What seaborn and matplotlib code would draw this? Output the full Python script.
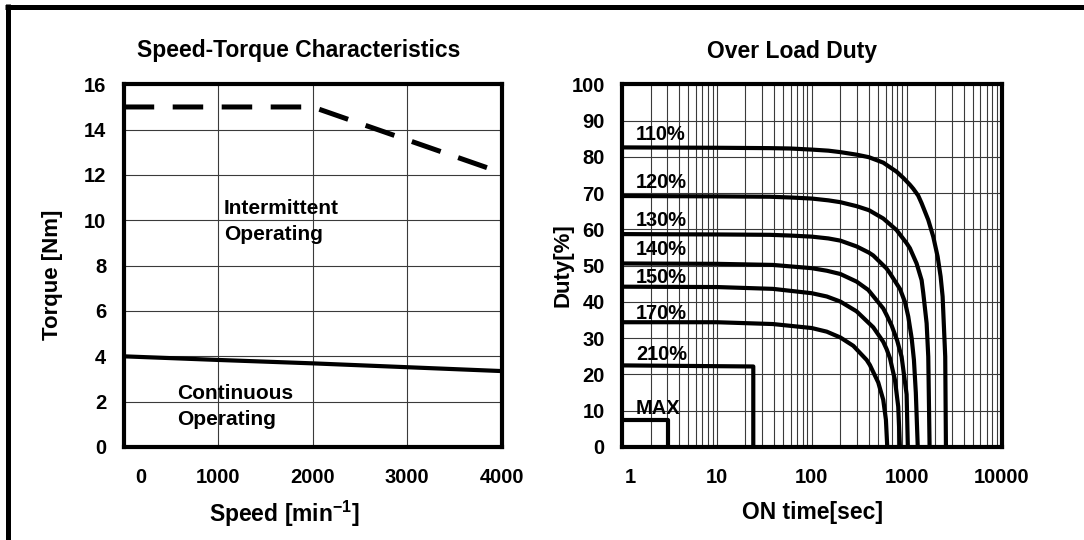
import matplotlib
matplotlib.use("Agg")
import matplotlib.pyplot as plt
import matplotlib.transforms as mtrans
from matplotlib.lines import Line2D
from matplotlib.ticker import FixedLocator, LogLocator, NullFormatter
from matplotlib import font_manager as fm
import seaborn as sns

# ---------------- data ----------------
speed = [0, 1000, 2000, 3000, 4000]
cont_torque = [4.0, 3.84, 3.69, 3.52, 3.35]
inter_speed = [0, 2000, 4000]
inter_torque = [15.0, 15.0, 12.1]
speed_ticks = [0, 1000, 2000, 3000, 4000]
torque_ticks = [0, 2, 4, 6, 8, 10, 12, 14, 16]

t_110 = [1, 10, 36, 59, 100, 150, 200, 297, 400, 567, 784, 922, 1083, 1175, 1325, 1439,
         1691, 1908, 2122, 2282, 2395, 2552, 2596]
d_110 = [82.6, 82.5, 82.4, 82.3, 82.0, 81.7, 81.3, 80.6, 79.9, 78.4, 75.9, 74.2, 72.3, 71.2,
         69.3, 67.2, 62.6, 58.0, 52.5, 47.0, 41.5, 24.9, 0]
t_120 = [1, 10, 36, 59, 100, 150, 200, 297, 400, 567, 784, 999, 1083, 1274, 1439, 1497,
         1625, 1691, 1746]
d_120 = [69.2, 69.1, 69.0, 68.8, 68.5, 68.0, 67.5, 66.4, 65.3, 63.0, 59.8, 56.2, 54.8, 50.6,
         46.0, 42.5, 34.1, 24.9, 0]
t_130 = [1, 10, 36, 59, 100, 150, 200, 297, 400, 445, 615, 667, 850, 960, 1040, 1130, 1194,
         1250, 1310]
d_130 = [58.7, 58.6, 58.5, 58.3, 58.0, 57.5, 56.9, 55.3, 53.6, 52.8, 49.2, 47.9, 43.6, 40.0,
         36.0, 30.0, 24.0, 15.0, 0]
t_140 = [1, 10, 39, 100, 144, 200, 297, 394, 445, 567, 615, 695, 796, 885, 1000, 1030]
d_140 = [50.6, 50.5, 50.2, 49.3, 48.6, 47.7, 45.6, 43.3, 41.6, 38.2, 36.4, 33.5, 29.3, 24.9,
         14.5, 0]
t_150 = [1, 10, 39, 100, 144, 200, 297, 445, 567, 615, 667, 753, 816, 850]
d_150 = [44.2, 44.1, 43.6, 42.4, 41.5, 40.1, 37.4, 33.0, 29.0, 27.0, 24.5, 18.5, 11.1, 0]
t_170 = [1, 10, 39, 100, 144, 200, 274, 379, 410, 502, 567, 605, 625]
d_170 = [34.4, 34.4, 33.9, 32.8, 31.8, 30.2, 27.9, 24.0, 22.6, 17.8, 13.0, 7.5, 0]
t_210 = [1, 24.2, 24.2]
d_210 = [22.5, 22.2, 0]
t_max = [1, 3.03, 3.03]
d_max = [7.4, 7.4, 0]
curve_labels = ["110%", "120%", "130%", "140%", "150%", "170%", "210%", "MAX"]
label_y = [86.1, 72.8, 62.5, 54.4, 46.7, 36.7, 25.4, 10.5]
time_ticks = [1, 10, 100, 1000, 10000]
time_ticklabels = ["1", "10", "100", "1000", "10000"]
duty_ticks = [0, 10, 20, 30, 40, 50, 60, 70, 80, 90, 100]

# ---------------- style ----------------
sns.set_theme(style="white")
names = {f.name for f in fm.fontManager.ttflist}
main = "Liberation Sans" if "Liberation Sans" in names else "DejaVu Sans"
narrow = "Liberation Sans Narrow" if "Liberation Sans Narrow" in names else main
plt.rcParams["font.family"] = [main, "DejaVu Sans"]
plt.rcParams["font.weight"] = "bold"
plt.rcParams["text.color"] = "black"
plt.rcParams["axes.labelcolor"] = "black"
plt.rcParams["xtick.color"] = "black"
plt.rcParams["ytick.color"] = "black"
plt.rcParams["mathtext.fontset"] = "custom"
plt.rcParams["mathtext.rm"] = main + ":bold"
plt.rcParams["mathtext.bf"] = main + ":bold"
plt.rcParams["mathtext.default"] = "bf"

W, H = 1084, 540
fig = plt.figure(figsize=(W / 100, H / 100), dpi=100)
fig.patch.set_facecolor("white")

ax1 = fig.add_axes([123.7 / W, 1 - 447 / H, (501.5 - 123.7) / W, (447 - 84.3) / H])
ax2 = fig.add_axes([622 / W, 1 - 447 / H, (1001.5 - 622) / W, (447 - 84.3) / H])

grid_kw = dict(color="#3a3a3a", linewidth=0.8)

# ---------------- left chart ----------------
sns.lineplot(x=speed, y=cont_torque, ax=ax1, color="black", linewidth=3.0,
             estimator=None, sort=False)
sns.lineplot(x=inter_speed, y=inter_torque, ax=ax1, color="black", linewidth=3.6,
             estimator=None, sort=False)
ax1.lines[-1].set_dashes((6.1, 3.7))
ax1.set_xlim(0, 4000)
ax1.set_ylim(0, 16)
ax1.xaxis.set_major_locator(FixedLocator(speed_ticks))
ax1.set_xticklabels([str(v) for v in speed_ticks])
ax1.yaxis.set_major_locator(FixedLocator(torque_ticks))
ax1.set_yticklabels([str(v) for v in torque_ticks])
ax1.grid(True, which="major", **grid_kw)
ax1.set_axisbelow(True)
ax1.set_xlabel("")
ax1.set_ylabel("")

ax1.text(1060, 10.27, "Intermittent", fontsize=15, va="baseline", ha="left")
ax1.text(1060, 9.13, "Operating", fontsize=15, va="baseline", ha="left")
ax1.text(568, 2.10, "Continuous", fontsize=15, va="baseline", ha="left")
ax1.text(568, 0.98, "Operating", fontsize=15, va="baseline", ha="left")

# ---------------- right chart ----------------
curves = [(t_110, d_110), (t_120, d_120), (t_130, d_130), (t_140, d_140),
          (t_150, d_150), (t_170, d_170), (t_210, d_210), (t_max, d_max)]
for tt, dd in curves:
    sns.lineplot(x=tt, y=dd, ax=ax2, color="black", linewidth=3.0,
                 estimator=None, sort=False)
for line in ax2.lines:
    line.set_solid_joinstyle("round")
ax2.set_xscale("log")
ax2.set_xlim(1, 10000)
ax2.set_ylim(0, 100)
ax2.xaxis.set_major_locator(FixedLocator(time_ticks))
ax2.set_xticklabels(time_ticklabels)
ax2.xaxis.set_minor_locator(LogLocator(base=10, subs=[2, 3, 4, 5, 6, 7, 8, 9]))
ax2.xaxis.set_minor_formatter(NullFormatter())
ax2.yaxis.set_major_locator(FixedLocator(duty_ticks))
ax2.set_yticklabels([str(v) for v in duty_ticks])
ax2.grid(True, which="major", **grid_kw)
ax2.grid(True, which="minor", axis="x", **grid_kw)
ax2.set_axisbelow(True)
ax2.set_xlabel("")
ax2.set_ylabel("")

for lab, yy in zip(curve_labels, label_y):
    ax2.text(1.40, yy, lab, fontsize=14.4, family=[narrow, main], va="center",
             ha="left", color="black")

# ---------------- shared axis styling ----------------
for ax in (ax1, ax2):
    for sp in ax.spines.values():
        sp.set_visible(True)
        sp.set_linewidth(3.0)
        sp.set_color("black")
        sp.set_zorder(5)
    ax.tick_params(axis="both", which="both", length=0, labelsize=14.5,
                   colors="black", labelcolor="black")
    ax.tick_params(axis="x", pad=15)
    ax.tick_params(axis="y", pad=12.5)
    for lbl in ax.get_xticklabels() + ax.get_yticklabels():
        lbl.set_fontweight("bold")

# shift the first x tick label to the right as in the reference
tk = ax1.xaxis.get_major_ticks()[0]
tk.label1.set_transform(tk.label1.get_transform() +
                        mtrans.ScaledTranslation(17.5 / 100, 0, fig.dpi_scale_trans))
tk = ax2.xaxis.get_major_ticks()[0]
tk.label1.set_transform(tk.label1.get_transform() +
                        mtrans.ScaledTranslation(8.7 / 100, 0, fig.dpi_scale_trans))

# ---------------- titles & axis labels ----------------
fig.text(298.8 / W, 1 - 50 / H, "Speed-Torque Characteristics", fontsize=16.5,
         ha="center", va="center")
fig.text(791.6 / W, 1 - 51.4 / H, "Over Load Duty", fontsize=16.5,
         ha="center", va="center")
fig.text(284 / W, 1 - 514 / H, r"Speed [min$^{-1}$]", fontsize=16.5,
         ha="center", va="center")
fig.text(812 / W, 1 - 512 / H, "ON time[sec]", fontsize=16.5,
         ha="center", va="center")
fig.text(52.5 / W, 1 - 274.6 / H, "Torque [Nm]", fontsize=16, rotation=90,
         ha="center", va="center")
fig.text(563 / W, 1 - 265 / H, "Duty[%]", fontsize=16, rotation=90,
         ha="center", va="center")

# ---------------- outer frame (top and left) ----------------
fig.add_artist(Line2D([5 / W, 1], [1 - 6.5 / H, 1 - 6.5 / H], transform=fig.transFigure,
                      color="black", linewidth=3.6, solid_capstyle="butt"))
fig.add_artist(Line2D([7.5 / W, 7.5 / W], [0, 1 - 4 / H], transform=fig.transFigure,
                      color="black", linewidth=3.6, solid_capstyle="butt"))

fig.savefig("out.png", dpi=100, facecolor="white")
